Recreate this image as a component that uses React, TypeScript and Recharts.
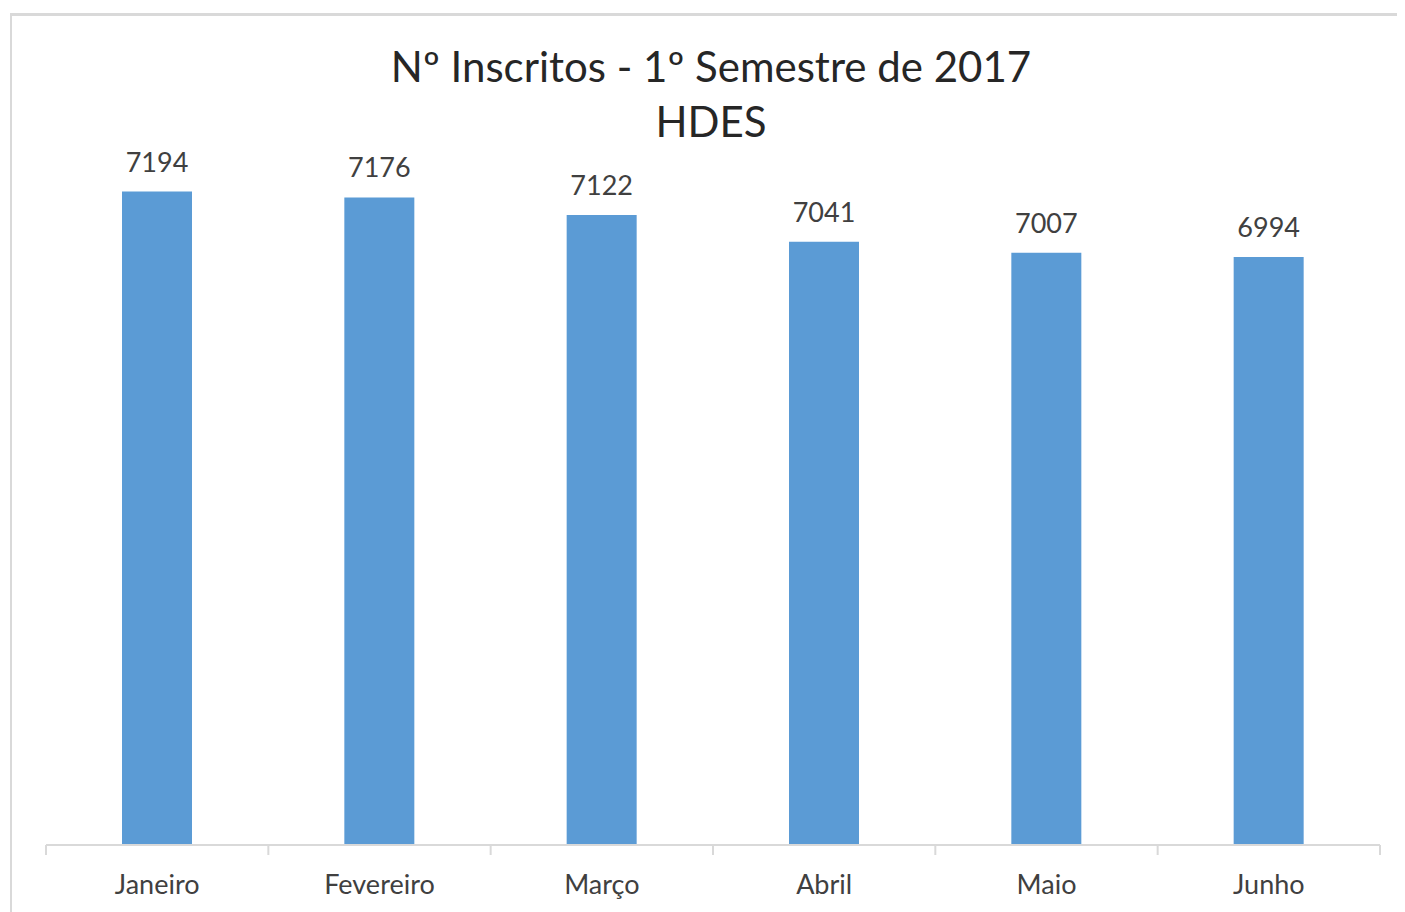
import { BarChart, Bar, XAxis, YAxis, LabelList } from 'recharts'

const months = ['Janeiro', 'Fevereiro', 'Março', 'Abril', 'Maio', 'Junho']
const inscritos = [7194, 7176, 7122, 7041, 7007, 6994]
const yDomain = [5200, 7400]
const titleLines = ['Nº Inscritos - 1º Semestre de 2017', 'HDES']

const data = months.map((month, i) => ({ month, value: inscritos[i] }))

const FONT = 'Lato, "Open Sans", sans-serif'
const AXIS_GREY = '#d9d9d9'
const TEXT_GREY = '#404040'

// Excel-style ticks: marks sit between categories, not under them
function MonthTick(props: any) {
  const { x, y, payload, index, visibleTicksCount, width } = props
  const half = payload?.offset || width / visibleTicksCount / 2
  const isLast = index === visibleTicksCount - 1
  return (
    <g>
      <line x1={x - half} x2={x - half} y1={y - 22 - 10} y2={y - 22} stroke={AXIS_GREY} strokeWidth={2} />
      {isLast && (
        <line x1={x + half} x2={x + half} y1={y - 22 - 10} y2={y - 22} stroke={AXIS_GREY} strokeWidth={2} />
      )}
      <text x={x} y={y} dy={17} textAnchor="middle" fontSize={27} fontFamily={FONT} fill={TEXT_GREY}>
        {payload.value}
      </text>
    </g>
  )
}

export default function App() {
  return (
    <div style={{ position: 'relative', width: 1397, height: 904, fontFamily: FONT }}>
      <div
        style={{
          position: 'absolute',
          left: 2,
          top: 5,
          right: 0,
          bottom: 0,
          borderLeft: `2px solid ${AXIS_GREY}`,
          borderTop: `3px solid ${AXIS_GREY}`,
        }}
      />
      <svg width={1397} height={160} style={{ position: 'absolute', left: 0, top: 0 }}>
        {titleLines.map((line, i) => (
          <text
            key={line}
            x={703}
            y={74 + i * 55}
            textAnchor="middle"
            fontSize={42}
            fontFamily={FONT}
            fill="#262626"
          >
            {line}
          </text>
        ))}
      </svg>
      <div style={{ position: 'absolute', left: 0, top: 0 }}>
        <BarChart
          width={1397}
          height={904}
          data={data}
          margin={{ top: 116, right: 25, bottom: 0, left: 38 }}
        >
          <YAxis type="number" domain={yDomain} allowDataOverflow hide />
          <XAxis
            dataKey="month"
            height={67}
            axisLine={{ stroke: AXIS_GREY, strokeWidth: 2 }}
            tickLine={false}
            tickSize={10}
            tickMargin={22}
            tick={<MonthTick />}
            interval={0}
          />
          <Bar dataKey="value" fill="#5b9bd5" barSize={70} isAnimationActive={false}>
            <LabelList
              dataKey="value"
              position="top"
              offset={20}
              fontSize={27}
              fontFamily={FONT}
              fill={TEXT_GREY}
            />
          </Bar>
        </BarChart>
      </div>
    </div>
  )
}
